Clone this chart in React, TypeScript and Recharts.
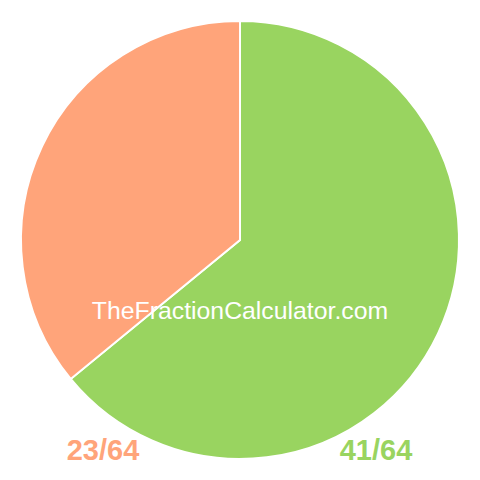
import React from "react";
import { PieChart, Pie, Cell } from "recharts";

const names = ["41/64", "23/64"];
const values = [41, 23];
const colors = ["#99D460", "#FFA47A"];
const watermark = "TheFractionCalculator.com";

const data = names.map((n, i) => ({ name: n, value: values[i] }));

const font = "'Liberation Sans', Arial, sans-serif";

export default function App() {
  return (
    <div style={{ position: "absolute", left: 0, top: 0, width: 480, height: 480, background: "#fff" }}>
      <PieChart width={480} height={480} margin={{ top: 0, right: 0, bottom: 0, left: 0 }}>
        <Pie
          data={data}
          dataKey="value"
          cx={240}
          cy={240}
          outerRadius={219}
          innerRadius={0}
          startAngle={90}
          endAngle={-270}
          stroke="#ffffff"
          strokeWidth={2}
          isAnimationActive={false}
        >
          {data.map((d, i) => (
            <Cell key={d.name} fill={colors[i]} />
          ))}
        </Pie>
      </PieChart>
      <svg width={480} height={480} style={{ position: "absolute", left: 0, top: 0, pointerEvents: "none" }}>
        <text x={240} y={319} textAnchor="middle" fill="#ffffff" fontFamily={font} fontSize={24.8}>
          {watermark}
        </text>
        <text x={103} y={460} textAnchor="middle" fill={colors[1]} fontFamily={font} fontSize={29} fontWeight="bold">
          {names[1]}
        </text>
        <text x={376} y={460} textAnchor="middle" fill={colors[0]} fontFamily={font} fontSize={29} fontWeight="bold">
          {names[0]}
        </text>
      </svg>
    </div>
  );
}
